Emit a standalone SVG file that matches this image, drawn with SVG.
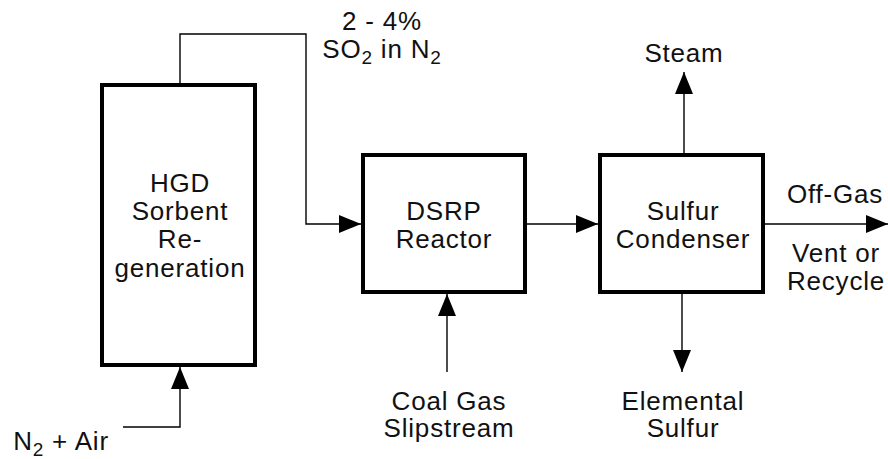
<svg xmlns="http://www.w3.org/2000/svg" width="888" height="459" viewBox="0 0 888 459">
<defs>
<marker id="ah" viewBox="0 0 22 18" refX="22" refY="9" markerWidth="22" markerHeight="18" markerUnits="userSpaceOnUse" orient="auto">
<path d="M0,0 L22,9 L0,18 Z" fill="#000"/>
</marker>
<style>
.box{fill:#fff;stroke:#000;stroke-width:4}
.ln{fill:none;stroke:#000;stroke-width:1.4}
.t{font-family:"Liberation Sans",Arial,sans-serif;font-size:26px;letter-spacing:0.8px;fill:#111;text-anchor:middle}
.s{font-size:19px}
</style>
</defs>
<rect width="888" height="459" fill="#fff"/>
<g id="connectors">
<path class="ln" d="M180,85 V34 H306 V224 H361" marker-end="url(#ah)"/>
<path class="ln" d="M123,427 H180 V367" marker-end="url(#ah)"/>
<path class="ln" d="M527,224 H598" marker-end="url(#ah)"/>
<path class="ln" d="M447,372 V294" marker-end="url(#ah)"/>
<path class="ln" d="M684,153 V72" marker-end="url(#ah)"/>
<path class="ln" d="M682,294 V372" marker-end="url(#ah)"/>
<path class="ln" d="M765,224 H888" marker-end="url(#ah)"/>
</g>
<g id="hgd">
<rect class="box" x="102" y="85" width="153" height="280"/>
<text class="t" x="180" y="192">HGD</text>
<text class="t" x="180" y="220">Sorbent</text>
<text class="t" x="180" y="248">Re-</text>
<text class="t" x="180" y="277">generation</text>
</g>
<g id="dsrp">
<rect class="box" x="363" y="155" width="162" height="137"/>
<text class="t" x="444" y="220">DSRP</text>
<text class="t" x="444" y="248">Reactor</text>
</g>
<g id="condenser">
<rect class="box" x="600" y="155" width="163" height="137"/>
<text class="t" x="683" y="220">Sulfur</text>
<text class="t" x="683" y="248">Condenser</text>
</g>
<g id="labels">
<text class="t" x="382" y="30">2 - 4%</text>
<text class="t" x="382" y="58">SO<tspan class="s" dy="6">2</tspan><tspan dy="-6"> in N</tspan><tspan class="s" dy="6">2</tspan></text>
<text class="t" x="684" y="62">Steam</text>
<text class="t" x="835" y="203">Off-Gas</text>
<text class="t" x="836" y="262">Vent or</text>
<text class="t" x="836" y="290">Recycle</text>
<text class="t" x="449" y="410">Coal Gas</text>
<text class="t" x="449" y="437">Slipstream</text>
<text class="t" x="683" y="410">Elemental</text>
<text class="t" x="683" y="437">Sulfur</text>
<text class="t" x="61" y="450">N<tspan class="s" dy="6">2</tspan><tspan dy="-6"> + Air</tspan></text>
</g>
</svg>
